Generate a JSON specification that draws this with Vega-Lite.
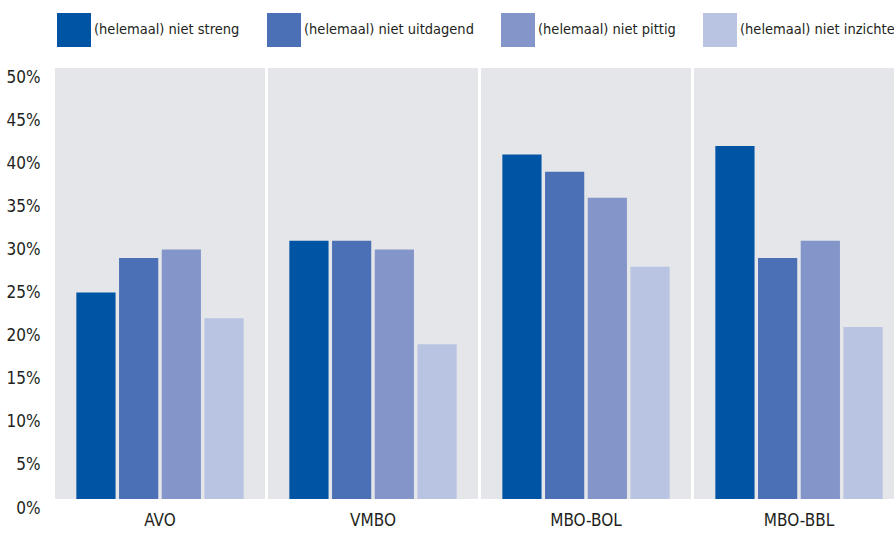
{
  "$schema": "https://vega.github.io/schema/vega-lite/v6.json",
  "width": 849,
  "height": 431,
  "autosize": {"type": "none"},
  "padding": {"left": 55, "top": 77, "right": 0, "bottom": 28},
  "background": "white",
  "config": {
    "view": {"stroke": null},
    "font": "'DejaVu Sans Condensed', 'Liberation Sans Narrow', sans-serif",
    "axis": {"labelFont": "'DejaVu Sans Condensed', 'Liberation Sans Narrow', sans-serif", "labelColor": "#231f20"},
    "legend": {"labelFont": "'DejaVu Sans Condensed', 'Liberation Sans Narrow', sans-serif", "labelColor": "#231f20"}
  },
  "data": {
    "values": [
      {"groep": "AVO", "reeks": "(helemaal) niet streng", "waarde": 0.25},
      {"groep": "AVO", "reeks": "(helemaal) niet uitdagend", "waarde": 0.29},
      {"groep": "AVO", "reeks": "(helemaal) niet pittig", "waarde": 0.30},
      {"groep": "AVO", "reeks": "(helemaal) niet inzichtelijk", "waarde": 0.22},
      {"groep": "VMBO", "reeks": "(helemaal) niet streng", "waarde": 0.31},
      {"groep": "VMBO", "reeks": "(helemaal) niet uitdagend", "waarde": 0.31},
      {"groep": "VMBO", "reeks": "(helemaal) niet pittig", "waarde": 0.30},
      {"groep": "VMBO", "reeks": "(helemaal) niet inzichtelijk", "waarde": 0.19},
      {"groep": "MBO-BOL", "reeks": "(helemaal) niet streng", "waarde": 0.41},
      {"groep": "MBO-BOL", "reeks": "(helemaal) niet uitdagend", "waarde": 0.39},
      {"groep": "MBO-BOL", "reeks": "(helemaal) niet pittig", "waarde": 0.36},
      {"groep": "MBO-BOL", "reeks": "(helemaal) niet inzichtelijk", "waarde": 0.28},
      {"groep": "MBO-BBL", "reeks": "(helemaal) niet streng", "waarde": 0.42},
      {"groep": "MBO-BBL", "reeks": "(helemaal) niet uitdagend", "waarde": 0.29},
      {"groep": "MBO-BBL", "reeks": "(helemaal) niet pittig", "waarde": 0.31},
      {"groep": "MBO-BBL", "reeks": "(helemaal) niet inzichtelijk", "waarde": 0.21}
    ]
  },
  "encoding": {
    "x": {
      "field": "groep",
      "type": "nominal",
      "sort": ["AVO", "VMBO", "MBO-BOL", "MBO-BBL"],
      "scale": {"paddingInner": 0.014, "paddingOuter": 0},
      "axis": {
        "title": null,
        "labelAngle": 0,
        "ticks": false,
        "domain": false,
        "labelFontSize": 17,
        "labelPadding": 4
      }
    }
  },
  "layer": [
    {
      "mark": {"type": "bar", "color": "#e5e6e9"},
      "encoding": {
        "y": {"datum": 0.5104, "type": "quantitative"},
        "y2": {"datum": 0.0104}
      }
    },
    {
      "mark": {"type": "bar"},
      "encoding": {
        "xOffset": {
          "field": "reeks",
          "type": "nominal",
          "sort": ["(helemaal) niet streng", "(helemaal) niet uitdagend", "(helemaal) niet pittig", "(helemaal) niet inzichtelijk"],
          "scale": {"paddingInner": 0.082, "paddingOuter": 0.5}
        },
        "y": {
          "field": "waarde",
          "type": "quantitative",
          "scale": {"domain": [0, 0.5], "nice": false, "zero": true},
          "axis": {
            "title": null,
            "format": ".0%",
            "values": [0, 0.05, 0.1, 0.15, 0.2, 0.25, 0.3, 0.35, 0.4, 0.45, 0.5],
            "grid": false,
            "ticks": false,
            "domain": false,
            "labelFontSize": 17,
            "labelPadding": 15
          }
        },
        "y2": {"datum": 0.0104},
        "color": {
          "field": "reeks",
          "type": "nominal",
          "sort": ["(helemaal) niet streng", "(helemaal) niet uitdagend", "(helemaal) niet pittig", "(helemaal) niet inzichtelijk"],
          "scale": {"range": ["#0054a4", "#4b70b5", "#8395c9", "#b9c3e2"]},
          "legend": {
            "title": null,
            "orient": "none",
            "legendX": 2,
            "legendY": -64,
            "direction": "horizontal",
            "columns": 4,
            "symbolType": "square",
            "symbolSize": 1156,
            "symbolStrokeWidth": 0,
            "symbolOpacity": 1,
            "labelFontSize": 14.5,
            "labelOffset": 3,
            "labelLimit": 400,
            "columnPadding": 27
          }
        }
      }
    }
  ]
}
